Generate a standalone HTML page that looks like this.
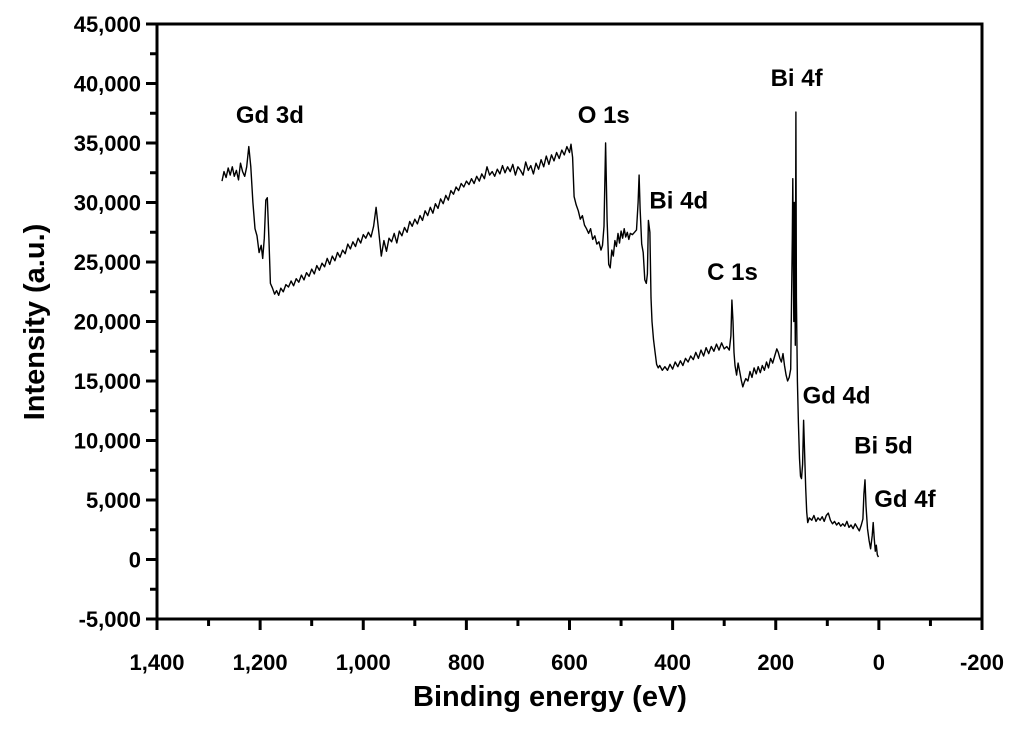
<!DOCTYPE html>
<html><head><meta charset="utf-8"><style>
body{margin:0;background:#fff}
svg text{font-family:"Liberation Sans",Arial,sans-serif;font-weight:bold;fill:#000}
</style></head><body>
<svg id="chart" width="1024" height="732" viewBox="0 0 1024 732" xmlns="http://www.w3.org/2000/svg"></svg>
<script>
const bindingEnergy=[1274,1270,1266,1262,1258,1254,1250,1246,1242,1238,1234,1230,1226,1222,1218,1214,1210,1206,1202,1198,1195,1192,1189,1186,1183,1180,1176,1172,1168,1164,1160,1155,1150,1145,1140,1135,1130,1125,1120,1115,1110,1105,1100,1095,1090,1085,1080,1075,1070,1065,1060,1055,1050,1045,1040,1035,1030,1025,1020,1015,1010,1005,1000,995,990,985,980,975,970,965,960,955,950,945,940,935,930,925,920,915,910,905,900,895,890,885,880,875,870,865,860,855,850,845,840,835,830,825,820,815,810,805,800,795,790,785,780,775,770,765,760,755,750,745,740,735,730,725,720,715,710,705,700,695,690,685,680,675,670,665,660,655,650,645,640,635,630,625,620,615,610,605,600,597,594,591,587,583,579,575,571,567,563,559,555,551,547,543,539,536,533,530,527,524,521,518,515,512,509,506,503,500,497,494,491,488,485,482,478,474,470,467,465,463,460,457,454,451,449,447,444,442,440,437,434,431,428,425,420,415,410,405,400,395,390,385,380,375,370,365,360,355,350,345,340,335,330,325,320,315,310,305,300,295,290,287,285,283,281,279,276,273,270,267,264,261,258,254,250,246,242,238,234,230,226,222,218,214,210,206,202,198,195,192,189,186,183,180,177,174,171,168,167,165,164,162,161,160,158,156,154,152,150,148,146,144,142,140,138,135,130,126,122,118,114,110,106,102,98,94,90,86,82,78,74,70,66,62,58,54,50,46,42,38,34,31,29,27,25,22,19,16,13,11,9,7,5,3,1];
const intensity=[31800,32600,32100,32900,32300,33000,32200,32700,31900,33300,32600,32200,33000,34700,33000,30000,27800,27200,25800,26400,25300,27000,30200,30400,27000,23200,22800,22300,22600,22200,22800,22500,23100,22900,23400,23000,23600,23300,23900,23500,24100,23800,24400,24000,24700,24300,24900,24600,25300,24800,25500,25100,25800,25400,26000,25700,26500,26100,26700,26300,27000,26600,27300,27000,27500,27100,28000,29600,27600,25500,26800,25900,27000,26700,27400,26600,27600,27200,27900,27500,28400,28000,28600,28200,28900,28500,29300,28900,29600,29100,29900,29500,30300,29900,30600,30200,31000,30700,31300,31000,31600,31300,31800,31500,32000,31600,32200,31800,32400,32000,33000,32300,32600,32200,32800,32400,33100,32500,33000,32600,33200,32300,33000,32700,32300,33400,32700,33100,32400,33300,32800,33600,33000,33900,33200,34000,33500,34200,33700,34400,34000,34700,34200,34900,33800,30500,29800,29300,28600,28900,28100,27800,27400,27800,26900,27200,26500,26700,26000,26400,28000,35000,28500,24800,24500,26000,25500,26800,26300,27400,26600,27600,27000,27800,27100,27500,26900,27400,27300,27500,27700,30000,32300,29500,26500,25800,23500,23200,24000,28500,27500,22000,20000,18500,17400,16400,16100,16300,15900,16200,15900,16400,16000,16600,16200,16700,16300,16900,16600,17100,16800,17400,16900,17600,17100,17800,17300,17900,17500,18100,17600,18200,17700,17900,17600,18800,21800,20000,17400,16300,15500,16500,15800,15100,14500,14900,15200,15000,15800,15300,16100,15600,16200,15700,16300,15900,16600,16100,16900,16500,17100,17700,17400,16900,16600,17300,16300,15500,15000,15300,16000,27000,32000,20000,30000,18000,37600,22000,15000,11500,8500,7000,6800,8000,11700,9000,6000,4000,3100,3500,3300,3700,3200,3500,3300,3600,3200,3700,3900,3300,3000,3200,2900,3100,2800,3000,2800,3200,2700,2900,2600,3000,2700,2400,2900,3400,5500,6700,4500,2600,1600,900,2000,3100,1800,700,1200,400,200];
const xTickValues=[1400,1200,1000,800,600,400,200,0,-200];
const xTickLabels=["1,400","1,200","1,000","800","600","400","200","0","-200"];
const yTickValues=[-5000,0,5000,10000,15000,20000,25000,30000,35000,40000,45000];
const yTickLabels=["-5,000","0","5,000","10,000","15,000","20,000","25,000","30,000","35,000","40,000","45,000"];
const peakNames=["Gd 3d","O 1s","Bi 4f","Bi 4d","C 1s","Gd 4d","Bi 5d","Gd 4f"];
const peakLabelBE=[1247,584,210,445,333,148,48,9];
const peakLabelI=[36700,36700,39800,29500,23500,13100,8900,4400];

const L=157,R=982,T=24,B=619;
const X=v=>L+(1400-v)*(R-L)/1600;
const Y=v=>B-(v+5000)*(B-T)/50000;
const svg=document.getElementById('chart');
const NS='http://www.w3.org/2000/svg';
function mk(tag,attrs,txt){const e=document.createElementNS(NS,tag);for(const k in attrs)e.setAttribute(k,attrs[k]);if(txt!==undefined)e.textContent=txt;svg.appendChild(e);return e;}

let d='';
for(let i=0;i<bindingEnergy.length;i++){d+=(i?'L':'M')+X(bindingEnergy[i]).toFixed(1)+','+Y(intensity[i]).toFixed(1);}
const line=mk('path',{d:d,fill:'none',stroke:'#000','stroke-width':1.4,'stroke-linejoin':'round'});



const frame=mk('rect',{x:L,y:T,width:R-L,height:B-T,fill:'none',stroke:'#000','stroke-width':3});



for(let v=1400;v>=-200;v-=100){
  const major=v%200===0;
  const t=mk('line',{x1:X(v),x2:X(v),y1:B,y2:B+(major?11:7),stroke:'#000','stroke-width':3});
  
  
}
xTickValues.forEach((v,i)=>{
  const t=mk('text',{x:X(v),y:670,'text-anchor':'middle','font-size':22},xTickLabels[i]);
  
  
});
for(let v=-5000;v<=45000;v+=2500){
  const major=v%5000===0;
  const t=mk('line',{x1:L-(major?11:7),x2:L,y1:Y(v),y2:Y(v),stroke:'#000','stroke-width':3});
  
  
}
yTickValues.forEach((v,i)=>{
  const t=mk('text',{x:141,y:Y(v)+8,'text-anchor':'end','font-size':22},yTickLabels[i]);
  
  
});
peakNames.forEach((n,i)=>{
  const t=mk('text',{x:X(peakLabelBE[i]),y:Y(peakLabelI[i]),'font-size':24},n);
  
  
});
const xt=mk('text',{x:550,y:706,'text-anchor':'middle','font-size':29},'Binding energy (eV)');


const yt=mk('text',{x:0,y:0,'text-anchor':'middle','font-size':29,transform:'translate(44,322) rotate(-90)'},'Intensity (a.u.)');


</script>
</body></html>
